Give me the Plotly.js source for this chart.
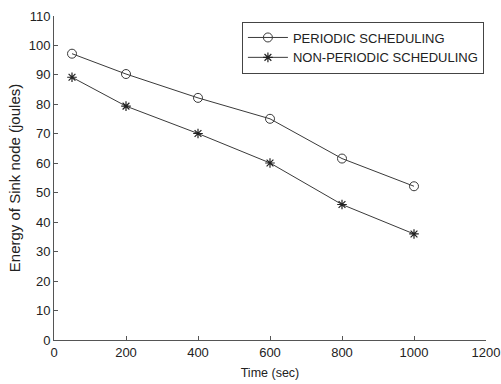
<!DOCTYPE html>
<html><head><meta charset="utf-8">
<script src="https://cdn.plot.ly/plotly-3.0.1.min.js"></script>
<style>html,body{margin:0;padding:0;background:#fff}</style>
</head><body>
<div id="chart" style="width:501px;height:384px"></div>
<script>
const timeSec = [50, 200, 400, 600, 800, 1000];
const periodic = [97.2, 90.3, 82.2, 75.1, 61.6, 52.2];
const nonPeriodic = [89.2, 79.4, 70.1, 60.1, 46.0, 36.0];
const xTicks = [0, 200, 400, 600, 800, 1000, 1200];
const yTicks = [0, 10, 20, 30, 40, 50, 60, 70, 80, 90, 100, 110];

const FONT = 'Liberation Sans, Arial, sans-serif';
const lineStyle = {color: '#3a3a3a', width: 1};
const traces = [
  {x: timeSec, y: periodic, name: 'PERIODIC SCHEDULING', mode: 'lines+markers',
   line: lineStyle, marker: {symbol: 'circle-open', size: 9, color: '#3a3a3a', line: {width: 1}}},
  {x: timeSec, y: nonPeriodic, name: 'NON-PERIODIC SCHEDULING', mode: 'lines+markers',
   line: lineStyle, marker: {symbol: 'asterisk-open', size: 8, color: '#222', line: {width: 1.2}}}
];
const axisCommon = {
  showgrid: false, zeroline: false, showline: true, linecolor: '#555', linewidth: 1,
  ticks: 'inside', ticklen: 4, tickcolor: '#555', mirror: false,
  tickfont: {family: FONT, size: 13, color: '#222'}
};
const layout = {
  width: 501, height: 384,
  margin: {l: 53.5, r: 14.5, t: 15.5, b: 43.5},
  paper_bgcolor: '#fff', plot_bgcolor: '#fff',
  showlegend: true,
  legend: {x: 0.435, y: 0.983, xanchor: 'left', yanchor: 'top', bgcolor: '#fff',
    bordercolor: '#444', borderwidth: 1, tracegroupgap: 0, itemwidth: 40,
    font: {family: FONT, size: 13, color: '#222'}},
  xaxis: Object.assign({}, axisCommon, {range: [0, 1200], tickvals: xTicks,
    title: {text: 'Time (sec)', standoff: 9, font: {family: FONT, size: 12.5, color: '#222'}}}),
  yaxis: Object.assign({}, axisCommon, {range: [0, 110], tickvals: yTicks,
    title: {text: 'Energy of Sink node (joules)', standoff: 4, font: {family: FONT, size: 15, color: '#222'}}})
};
Plotly.newPlot('chart', traces, layout, {displayModeBar: false, staticPlot: true});
</script>
</body></html>
